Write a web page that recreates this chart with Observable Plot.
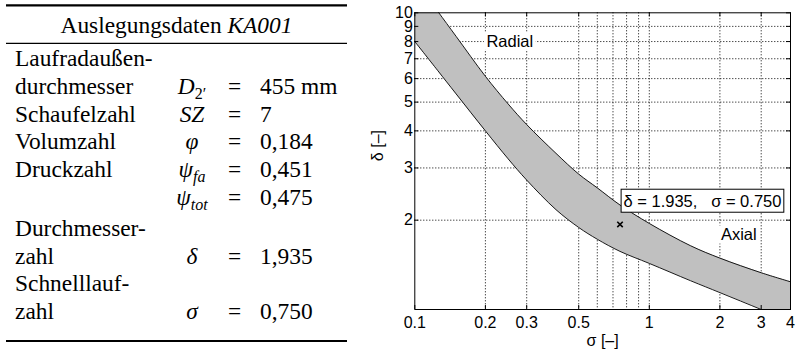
<!DOCTYPE html>
<html><head><meta charset="utf-8">
<script src="https://cdn.jsdelivr.net/npm/d3@7"></script>
<script src="https://cdn.jsdelivr.net/npm/@observablehq/plot@0.6"></script>
<style>
body{margin:0;background:#fff}
#wrap{position:relative;width:797px;height:350px;display:flex;background:#fff}
#chart svg{display:block}
#tbl text{font-family:"Liberation Serif","Times New Roman",Times,serif}
</style></head><body>
<div id="wrap"><svg id="tbl" width="360" height="350"></svg><div id="chart"></div></div>
<script>
// ---------- data: Cordier band (sigma vs delta) ----------
const sigma      = [0.1, 0.125, 0.15, 0.2, 0.25, 0.3, 0.4, 0.5, 0.6, 0.75, 1, 1.5, 2, 3, 4];
const deltaUpper = [12.9, 10.14, 8.33, 6.11, 4.93, 4.2, 3.36, 2.86, 2.57, 2.25, 1.95, 1.64, 1.49, 1.33, 1.24];
const deltaLower = [8.0, 6.4, 5.33, 4.0, 3.22, 2.73, 2.17, 1.89, 1.725, 1.57, 1.43, 1.25, 1.14, 1.0, 0.91];

// design point
const pointSigma = [0.75];
const pointDelta = [1.935];
const pointLabel = ["δ = 1.935,\u00a0\u00a0 σ = 0.750"];

// region labels
const regionNames = ["Radial", "Axial"];
const regionSigma = [0.2, 2.0];
const regionDelta = [8, 1.78];

// axes
const xTicks = [0.1, 0.2, 0.3, 0.5, 1, 2, 3, 4];
const xGrid  = [0.2, 0.3, 0.5, 0.6, 0.7, 0.8, 0.9, 1, 2, 3];
const yTicks = [2, 3, 4, 5, 6, 7, 8, 9, 10];
const yGrid  = [2, 3, 4, 5, 6, 7, 8, 9];

// ---------- data: table ----------
const tableTitle = "Auslegungsdaten ";
const tableTitleItalic = "KA001";
const rowLabels = ["Laufradaußen-", "durchmesser", "Schaufelzahl", "Volumzahl", "Druckzahl", "", "Durchmesser-", "zahl", "Schnelllauf-", "zahl"];
const rowSymbols = ["", "D", "SZ", "φ", "ψ", "ψ", "", "δ", "", "σ"];
const rowSubscripts = ["", "2′", "", "", "fa", "tot", "", "", "", ""];
const rowValues = ["", "455 mm", "7", "0,184", "0,451", "0,475", "", "1,935", "", "0,750"];

// ---------- table drawing ----------
const serif = "'Liberation Serif','Times New Roman',Times,serif";
const tbl = d3.select("#tbl").attr("font-family", serif).attr("font-size", 23.4).attr("fill", "black");
const ruleX1 = 6, ruleX2 = 347;
tbl.append("line").attr("x1", ruleX1).attr("x2", ruleX2).attr("y1", 5.3).attr("y2", 5.3).attr("stroke", "black").attr("stroke-width", 2.2);
tbl.append("line").attr("x1", ruleX1).attr("x2", ruleX2).attr("y1", 43.3).attr("y2", 43.3).attr("stroke", "black").attr("stroke-width", 1.2);
tbl.append("line").attr("x1", ruleX1).attr("x2", ruleX2).attr("y1", 341).attr("y2", 341).attr("stroke", "black").attr("stroke-width", 2.2);
const title = tbl.append("text").attr("x", (ruleX1 + ruleX2) / 2).attr("y", 33).attr("text-anchor", "middle");
title.append("tspan").text(tableTitle);
title.append("tspan").attr("font-style", "italic").text(tableTitleItalic);

function baseline(i) { return 66 + i * 27.8 + (i >= 6 ? 3 : 0); }
rowLabels.forEach((lab, i) => {
  const y = baseline(i);
  if (lab) tbl.append("text").attr("x", 15).attr("y", y).text(lab);
  if (rowSymbols[i]) {
    const t = tbl.append("text").attr("x", 192).attr("y", y).attr("text-anchor", "middle");
    t.append("tspan").attr("font-style", "italic").text(rowSymbols[i]);
    if (rowSubscripts[i]) {
      const sub = rowSubscripts[i];
      t.append("tspan").attr("font-size", 16).attr("dy", 5)
        .attr("font-style", /^[a-z]+$/.test(sub) ? "italic" : "normal").text(sub);
    }
    tbl.append("text").attr("x", 234.5).attr("y", y).attr("text-anchor", "middle").text("=");
    tbl.append("text").attr("x", 260).attr("y", y).text(rowValues[i]);
  }
});

// ---------- chart ----------
const band = sigma.map((s, i) => ({s, hi: deltaUpper[i], lo: deltaLower[i]}));
const pts = pointSigma.map((s, i) => ({s, d: pointDelta[i], label: pointLabel[i]}));
const regions = regionNames.map((n, i) => ({n, s: regionSigma[i], d: regionDelta[i]}));

const W = 437, H = 350, mL = 54.3, mR = 7, mT = 12.3, mB = 41;
const innerW = W - mL - mR, innerH = H - mT - mB;
const dotted = {stroke: "black", strokeWidth: 1, strokeDasharray: "1,2"};

const chart = Plot.plot({
  width: W, height: H,
  marginLeft: mL, marginRight: mR, marginTop: mT, marginBottom: mB,
  style: {fontFamily: "'Liberation Sans', Arial, Helvetica, sans-serif", fontSize: "16px", color: "black", background: "white", overflow: "visible"},
  x: {type: "log", domain: [0.1, 4]},
  y: {type: "log", domain: [1, 10]},
  marks: [
    Plot.ruleX(xGrid, {x: d => d, ...dotted}),
    Plot.ruleY(yGrid, {y: d => d, ...dotted}),
    Plot.areaY(band, {x: "s", y1: "lo", y2: "hi", fill: "#c0c0c0", curve: "catmull-rom", clip: true}),
    Plot.line(band, {x: "s", y: "hi", stroke: "black", strokeWidth: 0.9, curve: "catmull-rom", clip: true}),
    Plot.line(band, {x: "s", y: "lo", stroke: "black", strokeWidth: 0.9, curve: "catmull-rom", clip: true}),
    Plot.text(regions, {x: "s", y: "d", text: "n", textAnchor: "start", lineAnchor: "middle", fontSize: 16.5, dx: 1}),
    Plot.dot(pts, {x: "s", y: "d", symbol: "times", r: 2.6, stroke: "black", strokeWidth: 1.6}),
    Plot.text(pts, {x: "s", y: "d", text: "label", textAnchor: "start", lineAnchor: "middle", fontSize: 16.5, dx: 3.5, dy: -23}),
    Plot.tickX(xTicks, {x: d => d, insetTop: innerH - 4, stroke: "black"}),
    Plot.tickX(xTicks, {x: d => d, insetBottom: innerH - 4, stroke: "black"}),
    Plot.tickY(yTicks, {y: d => d, insetRight: innerW - 4, stroke: "black"}),
    Plot.tickY(yTicks, {y: d => d, insetLeft: innerW - 4, stroke: "black"}),
    Plot.frame({stroke: "black", strokeWidth: 1}),
    Plot.axisX({ticks: xTicks, tickFormat: d => String(d), tickSize: 0, tickPadding: 7.3, label: null, fontSize: 16}),
    Plot.axisY({ticks: yTicks, tickFormat: d => String(d), tickSize: 0, tickPadding: 2, label: null, fontSize: 16}),
    Plot.text(["σ [–]"], {frameAnchor: "bottom", dy: 31, lineAnchor: "middle", fontSize: 16}),
    Plot.text(["δ [–]"], {frameAnchor: "left", dx: -37, rotate: -90, lineAnchor: "middle", fontSize: 16})
  ]
});
document.getElementById("chart").appendChild(chart);

// white boxes behind labels (box with border for the design point label)
const NS = "http://www.w3.org/2000/svg";
chart.querySelectorAll("text").forEach(t => {
  const s = t.textContent;
  let border = null;
  if (s.startsWith("δ =")) border = "black";
  else if (s !== "Radial" && s !== "Axial") return;
  const b = t.getBBox();
  const px = 2.4, py = border ? 2.5 : 0;
  const r = document.createElementNS(NS, "rect");
  r.setAttribute("x", b.x - px);
  r.setAttribute("y", b.y - py);
  r.setAttribute("width", b.width + 2 * px);
  r.setAttribute("height", b.height + 2 * py);
  r.setAttribute("fill", "white");
  r.setAttribute("stroke", border || "none");
  r.setAttribute("stroke-width", 1);
  if (t.getAttribute("transform")) r.setAttribute("transform", t.getAttribute("transform"));
  t.parentNode.insertBefore(r, t);
});
</script>
</body></html>
